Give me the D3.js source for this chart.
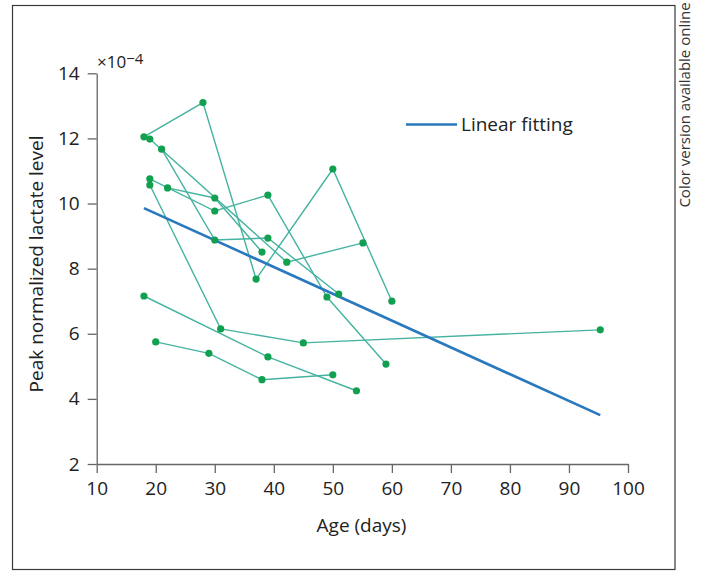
<!DOCTYPE html>
<html>
<head>
<meta charset="utf-8">
<script src="https://cdn.jsdelivr.net/npm/d3@7"></script>
<style>
  html, body { margin: 0; padding: 0; background: #fff; }
  svg { display: block; font-family: "Open Sans", "Noto Sans", sans-serif; }
</style>
</head>
<body>
<svg id="chart" width="703" height="571"></svg>
<script>
// ---- data (age in days, peak normalized lactate level ×10^-4) ----
const s1Age = [18, 28, 37, 50, 60];
const s1Val = [12.05, 13.1, 7.68, 11.06, 7.0];
const s2Age = [19, 31, 45, 95.3];
const s2Val = [10.57, 6.15, 5.72, 6.12];
const s3Age = [18, 39, 54];
const s3Val = [7.16, 5.29, 4.25];
const s4Age = [20, 29, 38, 50];
const s4Val = [5.75, 5.4, 4.59, 4.74];
const s5Age = [19, 42.2, 55.1];
const s5Val = [11.98, 8.2, 8.79];
const s6Age = [21, 30, 39, 51];
const s6Val = [11.67, 8.88, 8.94, 7.22];
const s7Age = [19, 30, 39, 49, 59];
const s7Val = [10.76, 9.77, 10.26, 7.13, 5.07];
const s8Age = [22, 30, 38];
const s8Val = [10.48, 10.17, 8.51];

const fitAge = [18, 95.3];
const fitVal = [9.86, 3.5];

const xTicks = [10, 20, 30, 40, 50, 60, 70, 80, 90, 100];
const yTicks = [2, 4, 6, 8, 10, 12, 14];

const seriesAges = [s1Age, s2Age, s3Age, s4Age, s5Age, s6Age, s7Age, s8Age];
const seriesVals = [s1Val, s2Val, s3Val, s4Val, s5Val, s6Val, s7Val, s8Val];

// ---- drawing ----
const svg = d3.select("#chart");
const x = d3.scaleLinear().domain([10, 100]).range([96.7, 628]);
const y = d3.scaleLinear().domain([2, 14]).range([464, 73.3]);
const FS = 19;

// outer frame
svg.append("rect").attr("x", 12.5).attr("y", 5.5).attr("width", 662.5).attr("height", 564)
  .attr("fill", "none").attr("stroke", "#3a3a3a").attr("stroke-width", 1.2);

// side note
svg.append("text")
  .attr("transform", "translate(690,105) rotate(-90)")
  .attr("text-anchor", "middle")
  .attr("font-size", 15).attr("fill", "#333")
  .text("Color version available online");

// axes
const xAxis = svg.append("g").attr("transform", "translate(0,464)")
  .call(d3.axisBottom(x).tickValues(xTicks).tickSize(9).tickSizeOuter(0).tickPadding(9));
const yAxis = svg.append("g").attr("transform", "translate(96.7,0)")
  .call(d3.axisLeft(y).tickValues(yTicks).tickSize(9).tickSizeOuter(0).tickPadding(8));
[xAxis, yAxis].forEach(g => {
  g.selectAll("path, line").attr("stroke", "#666").attr("stroke-width", 1.3);
  g.selectAll("text").attr("font-size", FS).attr("fill", "#222")
    .attr("font-family", "'Open Sans', 'Noto Sans', sans-serif");
});

// axis labels
svg.append("text").attr("x", 361.5).attr("y", 532).attr("text-anchor", "middle")
  .attr("font-size", FS).attr("fill", "#222").text("Age (days)");
svg.append("text").attr("transform", "translate(43,264) rotate(-90)")
  .attr("text-anchor", "middle").attr("font-size", FS).attr("fill", "#222")
  .text("Peak normalized lactate level");

// exponent
const ex = svg.append("text").attr("x", 97).attr("y", 68).attr("font-size", 17).attr("fill", "#222");
ex.append("tspan").text("×10");
ex.append("tspan").attr("font-size", 15).attr("dy", -4).text("−4");

// series lines
const line = d3.line().x(d => x(d[0])).y(d => y(d[1]));
seriesAges.forEach((ages, i) => {
  const pts = ages.map((a, j) => [a, seriesVals[i][j]]);
  svg.append("path").datum(pts).attr("d", line)
    .attr("fill", "none").attr("stroke", "#45b3a0").attr("stroke-width", 1.4);
});

// fit line
svg.append("path").datum(fitAge.map((a, j) => [a, fitVal[j]])).attr("d", line)
  .attr("fill", "none").attr("stroke", "#2a78bd").attr("stroke-width", 2.6);

// points
seriesAges.forEach((ages, i) => {
  svg.append("g").selectAll("circle").data(ages.map((a, j) => [a, seriesVals[i][j]]))
    .join("circle").attr("cx", d => x(d[0])).attr("cy", d => y(d[1])).attr("r", 3.6)
    .attr("fill", "#10a050");
});

// legend
svg.append("line").attr("x1", 406).attr("x2", 457).attr("y1", 124.5).attr("y2", 124.5)
  .attr("stroke", "#2a78bd").attr("stroke-width", 2.6);
svg.append("text").attr("x", 461).attr("y", 131).attr("font-size", FS).attr("fill", "#222")
  .text("Linear fitting");
</script>
</body>
</html>
